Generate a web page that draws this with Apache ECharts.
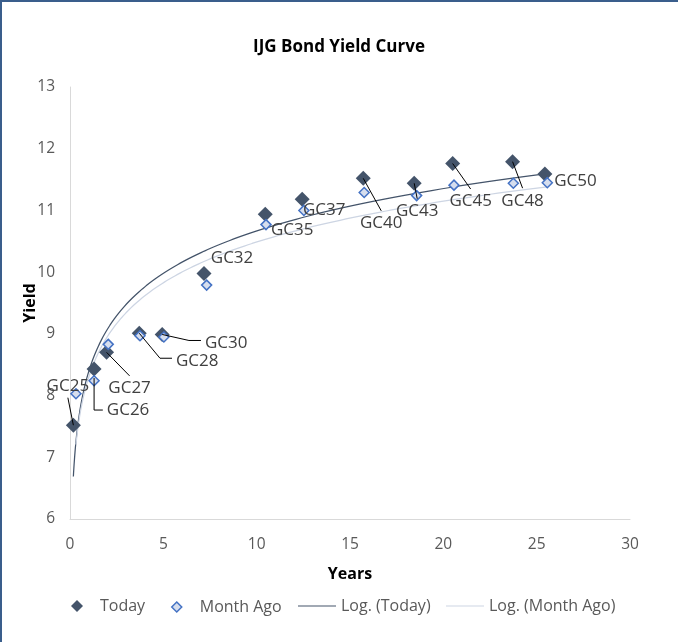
<!DOCTYPE html>
<html>
<head>
<meta charset="utf-8">
<script src="https://cdn.jsdelivr.net/npm/echarts@6/dist/echarts.min.js"></script>
<style>
  html, body { margin: 0; padding: 0; background: #fff; }
  #chart { width: 678px; height: 642px; }
</style>
</head>
<body>
<div id="chart"></div>
<script>
// ---- data ----
const bonds = ['GC25','GC26','GC27','GC28','GC30','GC32','GC35','GC37','GC40','GC43','GC45','GC48','GC50'];
const todayYears = [0.18, 1.29, 1.96, 3.71, 4.94, 7.18, 10.46, 12.44, 15.71, 18.44, 20.50, 23.71, 25.44];
const todayYield = [7.52, 8.43, 8.70, 9.01, 8.99, 9.98, 10.94, 11.18, 11.52, 11.44, 11.76, 11.79, 11.59];
const monthYears = [0.32, 1.29, 2.05, 3.75, 5.03, 7.32, 10.50, 12.53, 15.76, 18.57, 20.57, 23.75, 25.57];
const monthYield = [8.03, 8.24, 8.83, 8.97, 8.95, 9.79, 10.77, 11.00, 11.29, 11.24, 11.41, 11.44, 11.45];
const xTicks = [0, 5, 10, 15, 20, 25, 30];
const yTicks = [6, 7, 8, 9, 10, 11, 12, 13];
const seriesNames = ['Today', 'Month Ago', 'Log. (Today)', 'Log. (Month Ago)'];

// ---- label placement (style, pixel offsets from the marker) ----
const labelOffsets = [[-5.5,-39],[34,41],[23,36],[58,28],[64,9],[28,-15],[27,16],[22,11],[18,45],[3,28],[18,38],[10,39],[30.5,7]];
const leaderTypes = ['up','elbow','down','hook','hook','none','none','none','down','down','down','down','none'];
const LABEL_FONT = '17px "Open Sans"';

const COLOR_TODAY = '#44546A';
const COLOR_MONTH_FILL = '#D6DEEE';
const COLOR_MONTH_BORDER = '#4472C4';
const COLOR_MONTH_TREND = '#CDD5E3';

// Logarithmic least-squares trendline (as Excel "Log." trendline)
function logFit(xs, ys) {
  const n = xs.length;
  const lx = xs.map(Math.log);
  const mx = lx.reduce((s, v) => s + v, 0) / n;
  const my = ys.reduce((s, v) => s + v, 0) / n;
  let sxy = 0, sxx = 0;
  for (let i = 0; i < n; i++) { sxy += (lx[i] - mx) * (ys[i] - my); sxx += (lx[i] - mx) * (lx[i] - mx); }
  const b = sxy / sxx;
  return { a: my - b * mx, b: b };
}
function trendLine(xs, ys) {
  const f = logFit(xs, ys);
  const x0 = Math.min.apply(null, xs), x1 = Math.max.apply(null, xs);
  const pts = [];
  const N = 200;
  for (let k = 0; k <= N; k++) {
    const x = x0 * Math.pow(x1 / x0, k / N);
    pts.push([x, f.a + f.b * Math.log(x)]);
  }
  return pts;
}

const measureCtx = document.createElement('canvas').getContext('2d');
function textWidth(t) { measureCtx.font = LABEL_FONT; return measureCtx.measureText(t).width; }

const legendText = { fontFamily: 'Open Sans', fontSize: 16, color: '#595959' };
const LINE_ICON = 'path://M0,0 L38,0 L38,1 L0,1 Z';

const chart = echarts.init(document.getElementById('chart'), null, { renderer: 'canvas' });

const option = {
  backgroundColor: '#ffffff',
  animation: false,
  title: {
    text: 'IJG Bond Yield Curve',
    left: 'center',
    top: 39,
    padding: 0,
    textStyle: { fontFamily: 'Open Sans', fontWeight: 'bold', fontSize: 17, color: '#000000' }
  },
  graphic: [
    { type: 'rect', shape: { x: 0, y: 0, width: 678, height: 2 }, style: { fill: '#3A5E8C' }, z: 100 },
    { type: 'rect', shape: { x: 0, y: 0, width: 2, height: 642 }, style: { fill: '#3A5E8C' }, z: 100 }
  ],
  legend: [
    {
      data: [{ name: seriesNames[0], icon: 'diamond', itemStyle: { color: COLOR_TODAY, borderWidth: 0, opacity: 1 } }],
      left: 71, top: 598, padding: 0, itemWidth: 12, itemHeight: 12,
      textStyle: Object.assign({ padding: [0, 0, 0, 12] }, legendText)
    },
    {
      data: [{ name: seriesNames[1], icon: 'diamond', itemStyle: { color: COLOR_MONTH_FILL, borderColor: COLOR_MONTH_BORDER, borderWidth: 1.5, opacity: 1 } }],
      left: 171, top: 599, padding: 0, itemWidth: 10, itemHeight: 10,
      textStyle: Object.assign({ padding: [0, 0, 0, 13] }, legendText)
    },
    {
      data: [{ name: seriesNames[2], icon: LINE_ICON, itemStyle: { color: COLOR_TODAY } }],
      left: 298, top: 598, padding: 0, itemWidth: 38, itemHeight: 10,
      textStyle: legendText
    },
    {
      data: [{ name: seriesNames[3], icon: LINE_ICON, itemStyle: { color: COLOR_MONTH_TREND } }],
      left: 446, top: 598, padding: 0, itemWidth: 38, itemHeight: 10,
      textStyle: legendText
    }
  ],
  grid: { left: 70, right: 48, top: 87, bottom: 123, containLabel: false },
  xAxis: {
    type: 'value',
    min: xTicks[0], max: xTicks[xTicks.length - 1], interval: 5,
    name: 'Years', nameLocation: 'middle', nameGap: 47, nameMoveOverlap: false,
    nameTextStyle: { fontFamily: 'Open Sans', fontWeight: 'bold', fontSize: 16, color: '#000000' },
    axisLine: { show: true, lineStyle: { color: '#D9D9D9', width: 1 } },
    axisTick: { show: false },
    splitLine: { show: false },
    axisLabel: { fontFamily: 'Open Sans', fontSize: 15.5, color: '#595959', margin: 18 }
  },
  yAxis: {
    type: 'value',
    min: yTicks[0], max: yTicks[yTicks.length - 1], interval: 1,
    name: 'Yield', nameLocation: 'middle', nameGap: 32, nameRotate: 90, nameMoveOverlap: false,
    nameTextStyle: { fontFamily: 'Open Sans', fontWeight: 'bold', fontSize: 16, color: '#000000' },
    axisLine: { show: true, lineStyle: { color: '#D9D9D9', width: 1 } },
    axisTick: { show: false },
    splitLine: { show: false },
    axisLabel: { fontFamily: 'Open Sans', fontSize: 15.5, color: '#595959', margin: 15 }
  },
  series: [
    {
      name: seriesNames[2], type: 'line', data: trendLine(todayYears, todayYield),
      showSymbol: false, symbol: 'none', smooth: false,
      lineStyle: { color: COLOR_TODAY, width: 1.25 }, itemStyle: { color: COLOR_TODAY }, z: 1, silent: true
    },
    {
      name: seriesNames[3], type: 'line', data: trendLine(monthYears, monthYield),
      showSymbol: false, symbol: 'none', smooth: false,
      lineStyle: { color: COLOR_MONTH_TREND, width: 1.25 }, itemStyle: { color: COLOR_MONTH_TREND }, z: 1, silent: true
    },
    {
      name: seriesNames[0], type: 'scatter',
      data: todayYears.map((x, i) => [x, todayYield[i]]),
      symbol: 'diamond', symbolSize: 15,
      itemStyle: { color: COLOR_TODAY, opacity: 1 }, z: 3
    },
    {
      name: seriesNames[1], type: 'scatter',
      data: monthYears.map((x, i) => [x, monthYield[i]]),
      symbol: 'diamond', symbolSize: 10,
      itemStyle: { color: COLOR_MONTH_FILL, borderColor: COLOR_MONTH_BORDER, borderWidth: 1.5, opacity: 1 }, z: 4
    },
    {
      name: 'labels', type: 'custom', coordinateSystem: 'cartesian2d',
      data: todayYears.map((x, i) => [x, todayYield[i], i]),
      encode: { x: 0, y: 1 },
      silent: true, z: 5,
      renderItem: function (params, api) {
        const i = api.value(2);
        const p = api.coord([api.value(0), api.value(1)]);
        const off = labelOffsets[i];
        const lx = p[0] + off[0], ly = p[1] + off[1];
        const w = textWidth(bonds[i]);
        const h = 17;
        const children = [{
          type: 'text',
          style: { text: bonds[i], x: lx, y: ly, align: 'center', verticalAlign: 'middle',
                   font: LABEL_FONT, fill: '#404040' }
        }];
        let pts = null;
        const t = leaderTypes[i];
        if (t === 'up') pts = [[p[0], p[1]], [lx, ly + h / 2 + 3]];
        else if (t === 'down') pts = [[p[0], p[1]], [lx, ly - h / 2 - 4]];
        else if (t === 'elbow') pts = [[p[0], p[1] + 9], [p[0], ly], [lx - w / 2 - 4, ly]];
        else if (t === 'hook') pts = [[p[0], p[1]], [lx - w / 2 - 16, ly - 3], [lx - w / 2 - 4, ly - 3]];
        if (pts) {
          children.push({ type: 'polyline', shape: { points: pts }, style: { stroke: '#000000', lineWidth: 1, fill: null } });
        }
        return { type: 'group', children: children };
      }
    }
  ]
};
chart.setOption(option);
</script>
</body>
</html>
